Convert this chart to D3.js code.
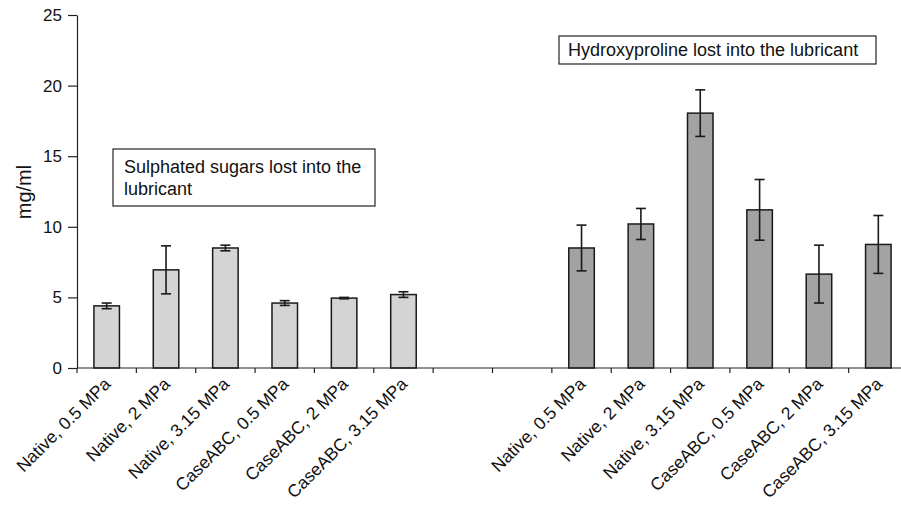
<!DOCTYPE html>
<html><head><meta charset="utf-8">
<script src="https://cdn.jsdelivr.net/npm/d3@7"></script>
<style>body{margin:0;background:#fff}svg{display:block}</style>
</head><body>
<svg id="c" width="901" height="505"></svg>
<script>
const categories = ["Native, 0.5 MPa","Native, 2 MPa","Native, 3.15 MPa","CaseABC, 0.5 MPa","CaseABC, 2 MPa","CaseABC, 3.15 MPa","gap1","gap2",
  "Native, 0.5 MPa ","Native, 2 MPa ","Native, 3.15 MPa ","CaseABC, 0.5 MPa ","CaseABC, 2 MPa ","CaseABC, 3.15 MPa "];
const sugarValues = [4.4, 6.95, 8.5, 4.6, 4.95, 5.2];
const sugarErrors = [0.2, 1.7, 0.2, 0.17, 0.05, 0.2];
const hypValues = [8.5, 10.2, 18.05, 11.2, 6.65, 8.75];
const hypErrors = [1.62, 1.1, 1.65, 2.15, 2.05, 2.05];
const yTicks = [0, 5, 10, 15, 20, 25];

const svg = d3.select("#c");
const font = "'Liberation Sans', Arial, sans-serif";
const x = d3.scaleBand().domain(categories).range([77, 908]).paddingInner(0).paddingOuter(0);
const y = d3.scaleLinear().domain([0, 25]).range([368, 15]);

const bars = [];
sugarValues.forEach((v,i)=>bars.push({cat:categories[i], v, e:sugarErrors[i], fill:"#d4d4d4"}));
hypValues.forEach((v,i)=>bars.push({cat:categories[8+i], v, e:hypErrors[i], fill:"#a3a3a3"}));

const bw = x.bandwidth()*0.43;
const g = svg.append("g");
g.selectAll("rect.bar").data(bars).join("rect")
  .attr("x", d=>x(d.cat)+x.bandwidth()/2-bw/2)
  .attr("y", d=>y(d.v)).attr("width", bw).attr("height", d=>y(0)-y(d.v))
  .attr("fill", d=>d.fill).attr("stroke", "#1a1a1a").attr("stroke-width", 1.5);

const eb = g.selectAll("g.err").data(bars).join("g").attr("stroke","#1a1a1a").attr("stroke-width",1.6);
eb.append("line").attr("x1",d=>x(d.cat)+x.bandwidth()/2).attr("x2",d=>x(d.cat)+x.bandwidth()/2)
  .attr("y1",d=>y(d.v+d.e)).attr("y2",d=>y(d.v-d.e));
eb.append("line").attr("x1",d=>x(d.cat)+x.bandwidth()/2-5).attr("x2",d=>x(d.cat)+x.bandwidth()/2+5)
  .attr("y1",d=>y(d.v+d.e)).attr("y2",d=>y(d.v+d.e));
eb.append("line").attr("x1",d=>x(d.cat)+x.bandwidth()/2-5).attr("x2",d=>x(d.cat)+x.bandwidth()/2+5)
  .attr("y1",d=>y(d.v-d.e)).attr("y2",d=>y(d.v-d.e));

// y axis
const ya = svg.append("g").attr("transform","translate(77,0)")
  .call(d3.axisLeft(y).tickValues(yTicks).tickSize(9).tickSizeOuter(0).tickFormat(d3.format("d")));
ya.select(".domain").attr("stroke","#222").attr("stroke-width",1.2);
ya.selectAll(".tick line").attr("stroke","#222").attr("stroke-width",1.2);
ya.selectAll("text").attr("font-family",font).attr("font-size",17).attr("fill","#111").attr("x",-15);

// x axis
const xa = svg.append("g").attr("transform",`translate(0,${y(0)})`);
xa.append("line").attr("x1",77).attr("x2",908).attr("stroke","#222").attr("stroke-width",1.2);
const boundaries = categories.map(c=>x(c)).concat([x(categories[categories.length-1])+x.bandwidth()]);
xa.selectAll("line.tk").data(boundaries).join("line").attr("class","tk")
  .attr("x1",d=>d).attr("x2",d=>d).attr("y1",0).attr("y2",5).attr("stroke","#222").attr("stroke-width",1.2);
xa.selectAll("text").data(categories.filter(c=>!c.startsWith("gap"))).join("text")
  .attr("font-family",font).attr("font-size",17.5).attr("fill","#111").attr("text-anchor","end")
  .attr("transform",d=>`translate(${x(d)+x.bandwidth()/2+5},${17}) rotate(-45)`)
  .text(d=>d.trim());

// y label
svg.append("text").attr("font-family",font).attr("font-size",20).attr("fill","#111")
  .attr("text-anchor","middle").attr("transform","translate(31,192) rotate(-90)").text("mg/ml");

// annotation boxes
svg.append("rect").attr("x",113).attr("y",149).attr("width",262).attr("height",57)
  .attr("fill","#fff").attr("stroke","#222").attr("stroke-width",1.2);
const t1 = svg.append("text").attr("font-family",font).attr("font-size",18).attr("fill","#111");
t1.append("tspan").attr("x",124).attr("y",173).text("Sulphated sugars lost into the");
t1.append("tspan").attr("x",124).attr("y",195).text("lubricant");
svg.append("rect").attr("x",559).attr("y",36).attr("width",317).attr("height",28)
  .attr("fill","#fff").attr("stroke","#222").attr("stroke-width",1.2);
svg.append("text").attr("font-family",font).attr("font-size",18).attr("fill","#111")
  .attr("x",568).attr("y",56).text("Hydroxyproline lost into the lubricant");
</script>
</body></html>
